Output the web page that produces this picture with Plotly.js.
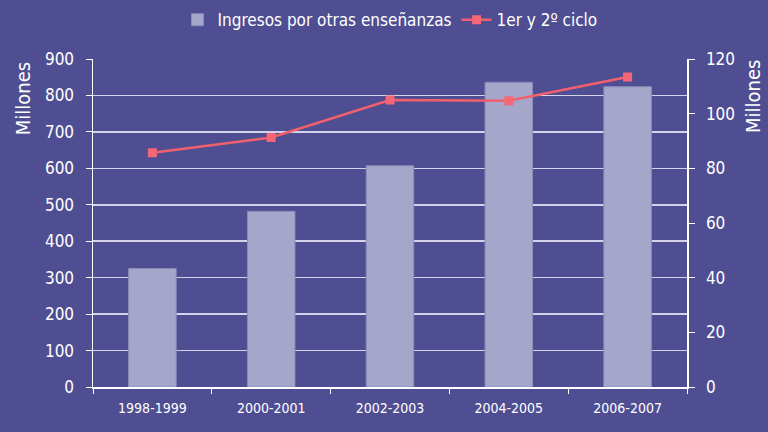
<!DOCTYPE html>
<html><head><meta charset="utf-8">
<script src="https://cdn.plot.ly/plotly-3.0.1.min.js"></script>
<style>html,body{margin:0;padding:0;background:#4F4E92;}#c{width:768px;height:432px;}</style>
</head><body><div id="c"></div>
<script>
const categories = ["1998-1999","2000-2001","2002-2003","2004-2005","2006-2007"];
const ingresosOtras = [325, 482, 607, 836, 824];
const primerSegundoCiclo = [85.7, 91.3, 105.0, 104.7, 113.4];
const leftTicks = [0,100,200,300,400,500,600,700,800,900];
const rightTicks = [0,20,40,60,80,100,120];
const axisTitle = "Millones";

const FONT = 'Liberation Sans Narrow, DejaVu Sans Condensed, Arial Narrow, Roboto, sans-serif';
const traces = [
  {type:'bar', x:categories, y:ingresosOtras, name:'Ingresos por otras enseñanzas',
   marker:{color:'#A6A6CA', line:{color:'#8C8CB9', width:1}}, yaxis:'y'},
  {type:'scatter', mode:'lines+markers', x:categories, y:primerSegundoCiclo, name:'1er y 2º ciclo',
   line:{color:'#F2606E', width:2.5}, marker:{symbol:'square', size:9, color:'#F56677'}, yaxis:'y2'}
];
const layout = {
  width:768, height:432,
  paper_bgcolor:'#4F4E92', plot_bgcolor:'#4F4E92',
  margin:{l:93, r:81, t:59, b:45},
  font:{family:FONT, color:'#FFFFFF', size:14},
  bargap:0.6,
  showlegend:true,
  legend:{orientation:'h', x:0.5, xanchor:'center', y:0.995, yanchor:'top', yref:'container',
          font:{size:17, color:'#FFFFFF'}, bgcolor:'rgba(0,0,0,0)', tracegroupgap:0},
  xaxis:{type:'category', showline:true, linecolor:'#FFFFFF', linewidth:1.5,
         ticks:'outside', tickson:'boundaries', ticklen:5, tickcolor:'#FFFFFF',
         tickfont:{size:14}, ticklabelstandoff:8, showgrid:false, zeroline:false},
  yaxis:{range:[0,900], tickvals:leftTicks, showline:true, linecolor:'#FFFFFF', linewidth:1.5,
         ticks:'outside', ticklen:6, tickcolor:'#FFFFFF', tickfont:{size:17}, ticklabelstandoff:8,
         showgrid:true, gridcolor:'rgba(235,235,250,0.85)', gridwidth:1.5, zeroline:false},
  yaxis2:{range:[0,120], tickvals:rightTicks, overlaying:'y', side:'right', showline:true,
          linecolor:'#FFFFFF', linewidth:1.5, ticks:'outside', ticklen:6, tickcolor:'#FFFFFF',
          tickfont:{size:17}, ticklabelstandoff:8, showgrid:false, zeroline:false},
  annotations:[
    {text:axisTitle, xref:'paper', yref:'paper', x:-0.118, y:0.88, xanchor:'center', yanchor:'middle',
     textangle:-90, showarrow:false, font:{size:20, color:'#FFFFFF'}},
    {text:axisTitle, xref:'paper', yref:'paper', x:1.11, y:0.885, xanchor:'center', yanchor:'middle',
     textangle:-90, showarrow:false, font:{size:20, color:'#FFFFFF'}}
  ]
};
Plotly.newPlot('c', traces, layout, {displayModeBar:false, staticPlot:true});
</script></body></html>
